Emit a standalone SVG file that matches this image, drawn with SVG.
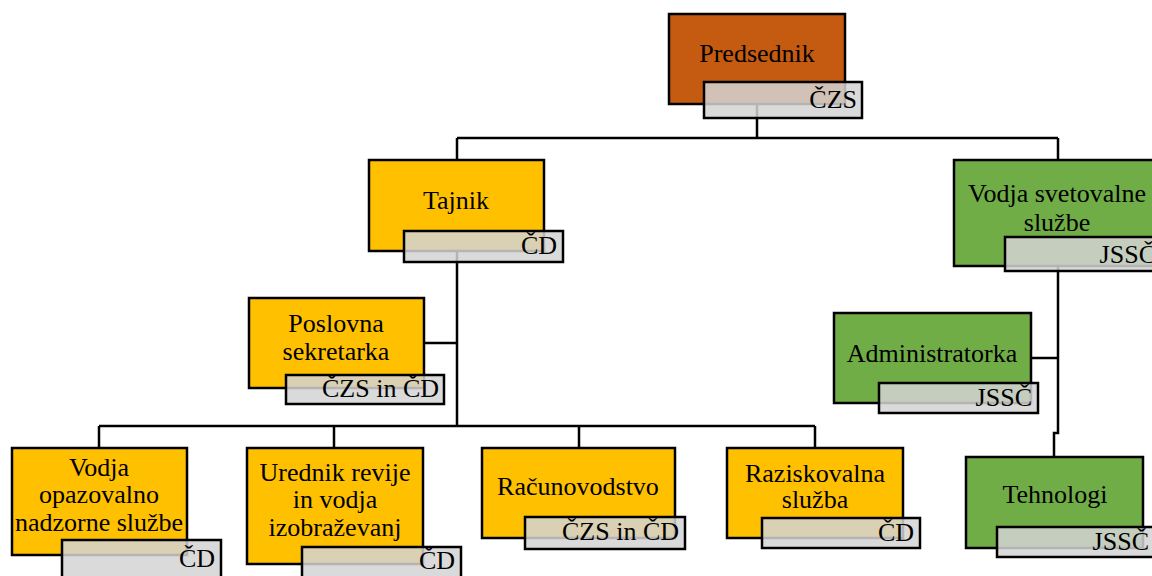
<svg xmlns="http://www.w3.org/2000/svg" width="1152" height="576" viewBox="0 0 1152 576">
<style>
.box{stroke:#000;stroke-width:2.5}
.o{fill:#C55A11}
.y{fill:#FFC000}
.g{fill:#70AD47}
.lab{fill:#D4D4D4;fill-opacity:0.85;stroke:#000;stroke-width:2.5}
text{font-family:"Liberation Serif","Times New Roman",serif;font-size:26px;fill:#000}
.c{text-anchor:middle}
.r{text-anchor:end}
.conn{fill:none;stroke:#000;stroke-width:2.5}
</style>
<rect width="1152" height="576" fill="#fff"/>
<g id="connectors" class="conn">
<path d="M757 104 V138 M457 138 H1058 M457 138 V160 M1058 138 V160"/>
<path d="M457 251 V426 M424 343 H457 M99 426 H815 M99 426 V448 M334 426 V448 M579 426 V448 M815 426 V448"/>
<path d="M1058 266 V433 H1054 V457 M1031 358 H1058"/>
</g>
<g id="predsednik">
<rect class="box o" x="669" y="14" width="176" height="90"/>
<rect class="lab" x="704" y="82" width="158" height="36"/>
<text class="c" x="757" y="62">Predsednik</text>
<text class="r" x="857" y="108">ČZS</text>
</g>
<g id="tajnik">
<rect class="box y" x="369" y="160" width="175" height="91"/>
<rect class="lab" x="404" y="231" width="159" height="31"/>
<text class="c" x="456" y="209">Tajnik</text>
<text class="r" x="557" y="254">ČD</text>
</g>
<g id="vodja-svetovalne">
<rect class="box g" x="954" y="160" width="208" height="106"/>
<rect class="lab" x="1005" y="237" width="157" height="34"/>
<text class="c" x="1057" y="202">Vodja svetovalne</text>
<text class="c" x="1057" y="231">službe</text>
<text class="r" x="1156" y="263">JSSČ</text>
</g>
<g id="poslovna-sekretarka">
<rect class="box y" x="249" y="298" width="175" height="90"/>
<rect class="lab" x="286" y="375" width="158" height="29"/>
<text class="c" x="336" y="332">Poslovna</text>
<text class="c" x="336" y="360">sekretarka</text>
<text class="r" x="439" y="397">ČZS in ČD</text>
</g>
<g id="administratorka">
<rect class="box g" x="834" y="313" width="197" height="90"/>
<rect class="lab" x="879" y="383" width="159" height="30"/>
<text class="c" x="932" y="362">Administratorka</text>
<text class="r" x="1032" y="406">JSSČ</text>
</g>
<g id="vodja-opazovalno">
<rect class="box y" x="12" y="448" width="175" height="107"/>
<rect class="lab" x="62" y="540" width="159" height="40"/>
<text class="c" x="99" y="476">Vodja</text>
<text class="c" x="99" y="503">opazovalno</text>
<text class="c" x="99" y="531">nadzorne službe</text>
<text class="r" x="215" y="567">ČD</text>
</g>
<g id="urednik">
<rect class="box y" x="247" y="448" width="176" height="116"/>
<rect class="lab" x="302" y="547" width="159" height="33"/>
<text class="c" x="335" y="481">Urednik revije</text>
<text class="c" x="335" y="508">in vodja</text>
<text class="c" x="335" y="536">izobraževanj</text>
<text class="r" x="455" y="569">ČD</text>
</g>
<g id="racunovodstvo">
<rect class="box y" x="482" y="448" width="193" height="90"/>
<rect class="lab" x="525" y="517" width="160" height="32"/>
<text class="c" x="578" y="495">Računovodstvo</text>
<text class="r" x="679" y="540">ČZS in ČD</text>
</g>
<g id="raziskovalna">
<rect class="box y" x="727" y="448" width="176" height="90"/>
<rect class="lab" x="762" y="518" width="158" height="30"/>
<text class="c" x="815" y="482">Raziskovalna</text>
<text class="c" x="815" y="508">služba</text>
<text class="r" x="914" y="541">ČD</text>
</g>
<g id="tehnologi">
<rect class="box g" x="966" y="457" width="177" height="91"/>
<rect class="lab" x="997" y="527" width="158" height="30"/>
<text class="c" x="1055" y="503">Tehnologi</text>
<text class="r" x="1149" y="550">JSSČ</text>
</g>
</svg>
